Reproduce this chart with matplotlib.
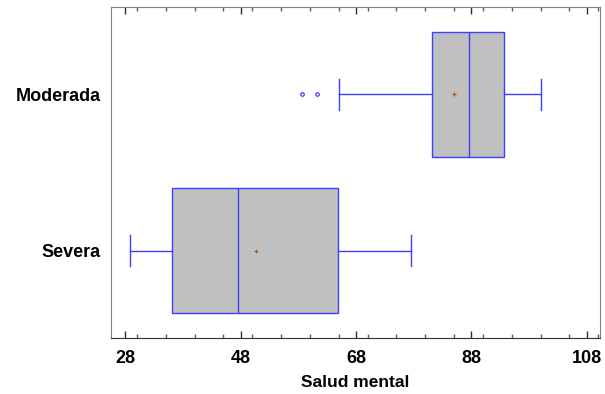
import matplotlib
matplotlib.use("Agg")
import matplotlib.pyplot as plt
from matplotlib.ticker import MultipleLocator

# values
groups = ["Severa", "Moderada"]
q1 = [36.1, 81.2]
median = [47.5, 87.5]
q3 = [64.9, 93.7]
whislo = [28.8, 65.0]
whishi = [77.5, 100.0]
means = [50.7, 85.0]
fliers = [[], [58.6, 61.2]]
xticks = [28, 48, 68, 88, 108]

plt.rcParams['font.family'] = ['Liberation Sans', 'DejaVu Sans']

stats = []
for i, name in enumerate(groups):
    stats.append({'label': name, 'q1': q1[i], 'med': median[i], 'q3': q3[i],
                  'whislo': whislo[i], 'whishi': whishi[i],
                  'mean': means[i], 'fliers': fliers[i]})

blue = '#3f3fff'
fig = plt.figure(figsize=(6.05, 3.94), dpi=100)
ax = fig.add_axes([0.183, 0.143, 0.8087, 0.84])

ax.bxp(stats, positions=[1, 2], orientation='horizontal', widths=0.8,
       showmeans=True, patch_artist=True, capwidths=0.2,
       boxprops=dict(facecolor='#c0c0c0', edgecolor=blue, linewidth=1.0),
       medianprops=dict(color=blue, linewidth=1.0),
       whiskerprops=dict(color=blue, linewidth=1.0),
       capprops=dict(color=blue, linewidth=1.0),
       meanprops=dict(marker='+', markeredgecolor='#b05a20', markersize=3.5,
                      markeredgewidth=0.9),
       flierprops=dict(marker='o', markerfacecolor='none', markeredgecolor=blue,
                       markersize=2.5, markeredgewidth=0.9))

ax.set_xlim(25.45, 110.3)
ax.set_ylim(0.445, 2.56)
ax.set_xticks(xticks)
ax.xaxis.set_minor_locator(MultipleLocator(5))
ax.set_yticks([1, 2])
ax.set_yticklabels(groups, fontsize=13, fontweight='bold')
ax.tick_params(axis='y', length=0, pad=7)
ax.tick_params(axis='x', which='major', direction='in', top=True, length=5,
               width=1, color='#303030', labelsize=13, pad=9)
ax.tick_params(axis='x', which='minor', direction='in', top=True, length=3,
               width=1, color='#606060')
for lab in ax.get_xticklabels():
    lab.set_fontweight('bold')

for side in ['left', 'top', 'right']:
    ax.spines[side].set_color('#808080')
ax.spines['bottom'].set_color('#303030')

ax.set_xlabel("Salud mental", fontsize=12.5, fontweight='bold', labelpad=6)

fig.savefig("out.png", dpi=100)
